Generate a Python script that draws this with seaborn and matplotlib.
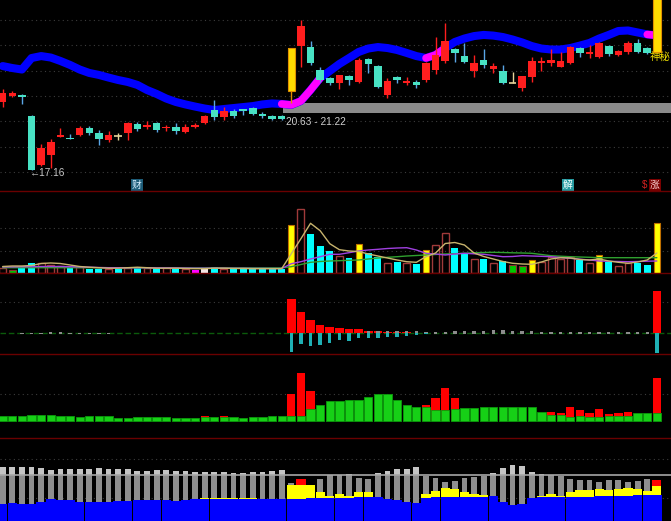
import matplotlib
matplotlib.use("Agg")
import matplotlib.pyplot as plt
import seaborn as sns
import numpy as np

# ---- K线: 开 收 高 低 ----
opens = [21.32, 21.66, 21.72, 20.44, 17.45, 18.06, 19.18, 19.08, 19.28, 19.73,
         19.39, 18.98, 19.20, 19.39, 19.96, 19.75, 20.00, 19.69, 19.79, 19.49,
         19.75, 20.00, 20.81, 20.36, 20.75, 20.85, 20.91, 20.57, 20.44, 20.42,
         21.97, 24.71, 24.67, 23.25, 22.74, 22.44, 22.88, 22.54, 23.90, 23.49,
         21.73, 22.84, 22.44, 22.54, 22.64, 23.25, 23.82, 24.51, 24.10, 23.21,
         23.86, 23.29, 23.21, 22.46, 22.13, 22.84, 23.70, 23.70, 23.45, 23.70,
         24.57, 24.23, 24.06, 24.71, 24.17, 24.37, 24.88, 24.57, 24.37]
closes = [21.83, 21.83, 21.58, 17.16, 18.47, 18.88, 19.28, 19.02, 19.69, 19.43,
          19.02, 19.28, 19.20, 20.00, 19.63, 19.89, 19.59, 19.79, 19.55, 19.79,
          19.89, 20.44, 20.36, 20.77, 20.44, 20.75, 20.57, 20.44, 20.24, 20.24,
          24.57, 25.93, 23.66, 22.64, 22.44, 22.95, 22.64, 23.86, 23.62, 22.19,
          22.60, 22.64, 22.58, 22.34, 23.66, 24.17, 25.04, 24.31, 23.76, 23.70,
          23.56, 23.49, 22.44, 22.46, 22.88, 23.82, 23.82, 23.86, 23.82, 24.63,
          24.31, 24.37, 24.88, 24.23, 24.43, 24.92, 24.37, 24.31, 29.24]
highs = [22.07, 21.99, 21.79, 20.50, 18.74, 19.02, 19.69, 19.33, 19.83, 19.83,
         19.59, 19.55, 19.43, 20.10, 20.08, 20.16, 20.10, 19.89, 20.00, 19.96,
         20.04, 20.50, 21.42, 20.97, 20.87, 20.89, 21.01, 20.71, 20.50, 20.50,
         24.57, 26.30, 25.04, 23.45, 22.84, 22.95, 22.95, 23.96, 23.96, 23.56,
         22.74, 22.88, 22.80, 22.64, 23.76, 25.28, 26.14, 24.57, 24.88, 24.17,
         24.51, 23.70, 23.56, 23.15, 22.88, 24.06, 24.02, 24.51, 24.37, 24.71,
         24.67, 24.77, 24.98, 24.77, 24.47, 25.04, 25.12, 24.67, 29.24]
lows = [21.01, 21.58, 21.18, 17.16, 17.40, 17.25, 19.14, 19.02, 19.24, 19.28,
        18.67, 18.88, 18.98, 18.98, 19.56, 19.63, 19.49, 19.53, 19.35, 19.41,
        19.69, 19.96, 20.20, 20.20, 20.32, 20.50, 20.50, 20.30, 20.20, 20.20,
        21.22, 23.45, 23.56, 22.54, 22.34, 22.07, 22.34, 22.44, 23.05, 22.13,
        21.52, 22.44, 22.34, 22.13, 22.54, 23.01, 23.70, 23.76, 23.66, 22.80,
        23.35, 23.05, 22.40, 22.44, 21.95, 22.54, 23.21, 23.49, 23.45, 23.62,
        24.02, 23.96, 23.96, 24.10, 24.10, 24.23, 24.27, 24.23, 24.31]
limit_up = [30, 68]

# 均线 (蓝), 洋红段
ma_line = [23.49, 23.37, 23.28, 23.98, 24.10, 24.01, 23.80, 23.56, 23.28, 23.07,
           22.95, 22.79, 22.64, 22.52, 22.34, 22.03, 21.79, 21.51, 21.30, 21.15,
           21.02, 20.90, 20.81, 20.87, 20.93, 20.99, 21.05, 21.15, 21.21, 21.18,
           21.12, 21.36, 22.03, 22.76, 23.19, 23.62, 23.98, 24.35, 24.56, 24.65,
           24.59, 24.47, 24.29, 24.10, 23.98, 24.17, 24.59, 24.96, 25.17, 25.32,
           25.39, 25.35, 25.26, 25.11, 24.93, 24.71, 24.56, 24.50, 24.50, 24.59,
           24.74, 24.90, 25.17, 25.39, 25.63, 25.66, 25.54, 25.42, 25.36]
ma_hot = [(29, 33), (44, 46), (67, 68)]

support_low, support_high, support_from = 20.63, 21.22, 29

# ---- 成交量 ----
vol = [0.44, 0.27, 0.44, 1.00, 1.00, 0.77, 0.70, 0.50, 0.60, 0.37,
       0.37, 0.37, 0.37, 0.50, 0.44, 0.44, 0.44, 0.44, 0.37, 0.37,
       0.27, 0.37, 0.60, 0.37, 0.37, 0.37, 0.37, 0.37, 0.37, 0.37,
       4.77, 6.37, 3.84, 2.67, 2.17, 1.70, 1.44, 2.84, 1.94, 1.60,
       1.00, 1.04, 0.94, 0.87, 2.27, 2.77, 3.94, 2.50, 2.00, 1.37,
       1.37, 1.00, 1.17, 0.77, 0.67, 1.27, 1.10, 1.60, 1.37, 1.60,
       1.27, 0.94, 1.77, 1.10, 0.67, 0.94, 0.94, 0.77, 4.94]
vol_kind = ("u g d d u u u d u d "
            "d u d u d u d u d u "
            "m w d u d d d d d d "
            "y u d d d u d y d d "
            "u d u d y u u d d u "
            "d u d g g y u u u u "
            "d u y d u u d d y").split()
vol_ma5 = [0.62, 0.67, 0.67, 0.72, 0.92, 0.97, 0.92, 0.77, 0.62, 0.55,
           0.50, 0.45, 0.45, 0.50, 0.55, 0.50, 0.45, 0.45, 0.45, 0.42,
           0.40, 0.40, 0.45, 0.45, 0.42, 0.42, 0.40, 0.40, 0.40, 0.40,
           1.90, 3.40, 4.94, 4.20, 2.90, 2.30, 2.17, 2.12, 1.87, 1.67,
           1.47, 1.27, 1.10, 1.04, 1.60, 1.97, 2.92, 3.02, 2.77, 1.97,
           1.62, 1.37, 1.12, 0.94, 0.87, 0.84, 1.07, 1.37, 1.50, 1.47,
           1.32, 1.27, 1.37, 1.17, 1.04, 0.94, 1.07, 1.27, 1.97]
vol_ma10 = [0.58, 0.58, 0.60, 0.60, 0.62, 0.62, 0.62, 0.60, 0.58, 0.55,
            0.52, 0.50, 0.50, 0.50, 0.50, 0.50, 0.48, 0.48, 0.47, 0.46,
            0.45, 0.45, 0.45, 0.45, 0.44, 0.44, 0.43, 0.43, 0.42, 0.42,
            0.90, 1.10, 1.37, 1.60, 1.84, 1.84, 2.00, 2.17, 2.27, 2.34,
            2.42, 2.47, 2.50, 2.27, 1.94, 1.87, 1.77, 1.87, 1.94, 1.89,
            1.84, 1.72, 1.60, 1.62, 1.70, 1.67, 1.64, 1.60, 1.52, 1.44,
            1.35, 1.27, 1.17, 1.14, 1.12, 1.10, 1.12, 1.15, 1.17]
vol_ma20 = [0.50, 0.50, 0.50, 0.50, 0.50, 0.50, 0.50, 0.50, 0.50, 0.50,
            0.49, 0.49, 0.49, 0.49, 0.48, 0.48, 0.48, 0.48, 0.48, 0.48,
            0.48, 0.48, 0.48, 0.48, 0.48, 0.48, 0.48, 0.48, 0.48, 0.48,
            0.60, 0.82, 1.04, 1.12, 1.17, 1.20, 1.24, 1.27, 1.37, 1.47,
            1.54, 1.60, 1.67, 1.72, 1.77, 1.82, 1.87, 1.90, 1.94, 1.99,
            2.02, 2.04, 2.02, 1.99, 1.97, 1.94, 1.82, 1.70, 1.65, 1.60,
            1.57, 1.54, 1.50, 1.50, 1.50, 1.50, 1.50, 1.50, 1.50]

# ---- 副图1: 红柱 / 青柱 / 灰柱 ----
p3_red = {30: 3.43, 31: 2.10, 32: 1.33, 33: 0.83, 34: 0.66, 35: 0.56, 36: 0.43,
          37: 0.40, 38: 0.26, 39: 0.26, 40: 0.16, 41: 0.16, 42: 0.10,
          57: 0.05, 58: 0.05, 68: 4.23}
p3_cyan = {30: -1.84, 31: -1.10, 32: -1.27, 33: -1.17, 34: -1.00, 35: -0.70,
           36: -0.77, 37: -0.50, 38: -0.44, 39: -0.50, 40: -0.34, 41: -0.34,
           42: -0.24, 43: -0.17, 44: -0.12, 68: -2.00}
p3_gray = {2: 0.05, 3: 0.06, 4: 0.05, 5: 0.08, 6: 0.08, 7: 0.06, 8: 0.05, 9: 0.06,
           10: 0.05, 11: 0.04, 38: 0.2, 39: 0.2, 40: 0.2, 41: 0.25, 42: 0.25,
           43: 0.2, 44: 0.1, 45: 0.1, 46: 0.1, 47: 0.2, 48: 0.25, 49: 0.25,
           50: 0.25, 51: 0.3, 52: 0.3, 53: 0.25, 54: 0.25, 55: 0.2, 56: 0.15,
           57: 0.1, 58: 0.1, 59: 0.1, 60: 0.15, 61: 0.1, 62: 0.1, 63: 0.1,
           64: 0.1, 65: 0.1, 66: 0.1, 67: 0.15}

# ---- 副图2: 绿柱 + 红柱 ----
p4_green = [0.47, 0.47, 0.47, 0.57, 0.57, 0.57, 0.47, 0.47, 0.34, 0.47,
            0.47, 0.47, 0.30, 0.30, 0.40, 0.40, 0.40, 0.40, 0.30, 0.30,
            0.30, 0.40, 0.40, 0.40, 0.40, 0.30, 0.40, 0.40, 0.47, 0.47,
            0.47, 0.47, 1.14, 1.57, 1.90, 1.90, 2.07, 2.00, 2.34, 2.67,
            2.67, 2.07, 1.57, 1.34, 1.40, 1.07, 1.07, 1.14, 1.24, 1.24,
            1.34, 1.34, 1.40, 1.40, 1.40, 1.40, 0.90, 0.57, 0.57, 0.34,
            0.47, 0.34, 0.34, 0.47, 0.47, 0.47, 0.74, 0.80, 0.80]
p4_red = {21: 0.50, 23: 0.45, 30: 2.67, 31: 4.74, 32: 2.90, 44: 1.57, 45: 2.24,
          46: 3.24, 47: 2.24, 57: 0.84, 58: 0.74, 59: 1.40, 60: 1.07, 61: 0.80,
          62: 1.14, 63: 0.67, 64: 0.74, 65: 0.90, 68: 4.24}

# ---- 副图3: 灰 / 蓝 / 黄 / 红 ----
p5_gray = [5.43, 5.43, 5.43, 5.43, 5.27, 5.10, 5.17, 5.17, 5.17, 5.17,
           5.27, 5.17, 5.17, 5.17, 5.03, 5.03, 5.10, 5.10, 5.03, 5.03,
           4.93, 4.93, 4.93, 4.93, 4.83, 4.83, 4.93, 4.93, 5.03, 5.10,
           3.80, 4.17, 3.60, 4.17, 4.60, 4.60, 4.70, 4.27, 4.17, 4.77,
           5.03, 5.17, 5.17, 5.37, 4.50, 4.27, 3.93, 4.03, 4.27, 4.43,
           4.50, 4.77, 5.27, 5.60, 5.50, 4.93, 4.67, 4.60, 4.53, 4.20,
           4.10, 4.10, 3.93, 4.10, 4.10, 3.93, 4.03, 4.17, 4.10]
p5_blue = [1.70, 1.77, 1.70, 1.70, 1.93, 2.17, 2.10, 2.07, 1.93, 1.93,
           1.93, 1.93, 2.03, 2.03, 2.10, 2.10, 2.10, 2.10, 2.03, 2.10,
           2.17, 2.17, 2.17, 2.17, 2.17, 2.17, 2.17, 2.17, 2.17, 2.17,
           2.17, 2.17, 2.27, 2.27, 2.27, 2.27, 2.27, 2.37, 2.40, 2.43,
           2.17, 2.10, 1.93, 1.83, 2.27, 2.43, 2.43, 2.43, 2.43, 2.43,
           2.43, 2.50, 1.93, 1.60, 1.70, 2.27, 2.37, 2.43, 2.43, 2.43,
           2.43, 2.43, 2.50, 2.50, 2.50, 2.50, 2.60, 2.60, 2.60]
p5_yellow = {21: 2.27, 22: 2.27, 23: 2.27, 24: 2.27, 25: 2.27, 26: 2.27,
             30: 3.60, 31: 3.60, 32: 3.60, 33: 2.93, 34: 2.50, 35: 2.70,
             36: 2.50, 37: 2.93, 38: 2.93, 44: 2.70, 45: 3.00, 46: 3.33,
             47: 3.17, 48: 2.93, 49: 2.70, 50: 2.60, 56: 2.50, 57: 2.70,
             58: 2.53, 59: 2.93, 60: 3.10, 61: 3.10, 62: 3.20, 63: 3.10,
             64: 3.17, 65: 3.33, 66: 3.17, 67: 3.00, 68: 3.50}
p5_red = {31: 4.17, 68: 4.10}
p5_level = 4.6

# ---------------------------------------------------------------
sns.set_theme(style="dark")
plt.rcParams["font.family"] = ["DejaVu Sans", "Noto Sans CJK SC"]
num_font = ["Liberation Sans", "DejaVu Sans"]
cjk_font = ["Noto Sans CJK SC", "DejaVu Sans"]

n = len(closes)
idx = np.arange(n)
o = np.array(opens)
c = np.array(closes)

fig = plt.figure(figsize=(6.71, 5.21), dpi=100, facecolor="black")
H = 521.0
rows = [(0, 191), (191, 272.7), (272.7, 353.5), (353.5, 437.7), (437.7, 521)]
axes = []
for k, (top, bot) in enumerate(rows):
    ax = fig.add_axes([0, 1 - bot / H, 1, (bot - top) / H])
    ax.set_facecolor("black")
    ax.set_xlim(-0.28, 69.47)
    for s in ["left", "right", "bottom"]:
        ax.spines[s].set_visible(False)
    ax.spines["top"].set_color("#6a0000")
    ax.spines["top"].set_linewidth(1.0)
    ax.spines["top"].set_visible(k > 0)
    ax.tick_params(left=False, labelleft=False, bottom=False, labelbottom=False)
    ax.set_xticks([])
    axes.append(ax)
ax1, ax2, ax3, ax4, ax5 = axes

def dotted_grid(ax, levels):
    ax.set_yticks(levels)
    ax.grid(True, axis="y", color="#3c3c3c", linestyle=(0, (1, 3)), lw=0.8)
    ax.grid(False, axis="x")
    ax.set_axisbelow(True)

# ---- 主图 ----
ax1.set_ylim(15.87, 27.52)
dotted_grid(ax1, list(np.linspace(17.03, 26.30, 7)))

ax1.fill_between([support_from + 0.15, 69.47], support_low, support_high,
                 color="#8a8a8a", lw=0, zorder=1)
sns.lineplot(x=idx, y=ma_line, ax=ax1, color="#0000ff", lw=5.8,
             solid_capstyle="round", zorder=2)
for a, b in ma_hot:
    ax1.plot(idx[a:b + 1], ma_line[a:b + 1], color="#ff00ff", lw=5.4,
             solid_capstyle="round", zorder=2.5)

body_col, wick_col = [], []
for i in range(n):
    if i in limit_up:
        body_col.append("#ffdc00"); wick_col.append("#e08a00")
    elif c[i] > o[i]:
        body_col.append("#ff1e1e"); wick_col.append("#ff1e1e")
    elif c[i] < o[i]:
        body_col.append("#48e2c4"); wick_col.append("#5aa6e6")
    else:
        body_col.append("#e6d49a"); wick_col.append("#e6d49a")
ax1.vlines(idx, lows, highs, colors=wick_col, lw=1.0, zorder=3)
ax1.bar(idx, np.abs(c - o), bottom=np.minimum(o, c), width=0.78,
        color=body_col, lw=0, zorder=4)
flat = idx[c == o]
ax1.hlines(c[flat], flat - 0.39, flat + 0.39, colors="#e6d49a", lw=1.2, zorder=4)
for i in limit_up:
    ax1.bar(i, c[i] - o[i], bottom=o[i], width=0.78, facecolor="none",
            edgecolor="#e09000", lw=0.8, zorder=4.5)

low_i = int(np.argmin(lows))
ax1.text(low_i - 0.16, lows[low_i] - 0.19, "\u2190%.2f" % lows[low_i],
         color="#c8c8c8", fontsize=7.3, ha="left", va="center", family=num_font)
ax1.text(support_from + 0.45, support_low - 0.55,
         "%.2f - %.2f" % (support_low, support_high), color="#d0d0d0",
         fontsize=7.3, ha="left", va="center", family=num_font)
box = dict(boxstyle="square,pad=0.1", ec="none")
ax1.text(13.93, 16.23, "财", color="#d8f0ff", fontsize=7, ha="center",
         va="center", family=cjk_font, bbox=dict(box, fc="#1d5c78"))
ax1.text(58.76, 16.23, "解", color="#f0ffff", fontsize=7, ha="center",
         va="center", family=cjk_font, bbox=dict(box, fc="#259aa0"))
ax1.text(66.77, 16.23, "$", color="#d02020", fontsize=7, ha="center",
         va="center", family=num_font)
ax1.text(67.8, 16.23, "涨", color="#ffd8d8", fontsize=7, ha="center",
         va="center", family=cjk_font, bbox=dict(box, fc="#7a0000"))
ax1.text(69.4, 24.06, "神秘", color="#f0e000", fontsize=7.5, ha="right",
         va="center", family=cjk_font)

# ---- 成交量 ----
ax2.set_ylim(0, 8.17)
dotted_grid(ax2, [2.2, 4.44])
kind_style = {
    "d": dict(color="#00ffff", width=0.72, lw=0),
    "g": dict(color="#00c800", width=0.72, edgecolor="#8a3030", lw=0.8),
    "m": dict(color="#ff00ff", width=0.72, lw=0),
    "w": dict(color="#f4e4e4", width=0.72, lw=0),
    "y": dict(color="#ffff00", width=0.6, edgecolor="#c07000", lw=0.8),
    "u": dict(facecolor="none", width=0.72, edgecolor="#a03a3a", lw=1.0),
}
for i in range(n):
    ax2.bar(i, vol[i], zorder=3, **kind_style[vol_kind[i]])
sns.lineplot(x=idx, y=vol_ma20, ax=ax2, color="#2fa02f", lw=1.0, zorder=4)
sns.lineplot(x=idx, y=vol_ma10, ax=ax2, color="#a040e0", lw=1.0, zorder=4)
sns.lineplot(x=idx, y=vol_ma5, ax=ax2, color="#c8b46e", lw=1.0, zorder=4)

# ---- 副图1 ----
ax3.set_ylim(-2.02, 6.06)
dotted_grid(ax3, [3.1])
ax3.axhline(0, color="#0b5a0b", ls=(0, (4, 2)), lw=1.0, zorder=2)
ax3.bar(list(p3_red), list(p3_red.values()), width=0.9, color="#ff0000", lw=0, zorder=3)
ax3.bar(list(p3_gray), [v + 0.12 for v in p3_gray.values()], bottom=-0.12,
        width=0.35, color="#8c8c8c", lw=0, zorder=3)
ax3.bar(list(p3_cyan), list(p3_cyan.values()), width=0.35, color="#1fb0b4", lw=0, zorder=3)

# ---- 副图2 ----
ax4.set_ylim(-1.7, 6.67)
dotted_grid(ax4, [2.64])
ax4.bar(list(p4_red), list(p4_red.values()), width=0.86, color="#ff0000", lw=0, zorder=3)
ax4.bar(idx, p4_green, width=0.86, color="#16d016", edgecolor="#0c9a0c", lw=0.6, zorder=4)

# ---- 副图3 ----
ax5.set_ylim(0, 8.33)
dotted_grid(ax5, [2.3, 6.17])
g = np.array(p5_gray)
ax5.bar(idx, np.minimum(g, p5_level), width=0.6, color="#8e8e8e", lw=0, zorder=3)
ax5.bar(idx, np.clip(g - p5_level, 0, None), bottom=p5_level, width=0.6,
        color="#c4c4c4", lw=0, zorder=3)
ax5.bar(idx, p5_blue, width=0.98, color="#0000ff", lw=0, zorder=4)
yk = list(p5_yellow)
ax5.bar(yk, [p5_yellow[i] - p5_blue[i] for i in yk], bottom=[p5_blue[i] for i in yk],
        width=0.96, color="#ffff00", lw=0, zorder=4)
rk = list(p5_red)
ax5.bar(rk, [p5_red[i] - p5_yellow[i] for i in rk], bottom=[p5_yellow[i] for i in rk],
        width=0.96, color="#ff0000", lw=0, zorder=4)
ax5.axhline(p5_level, color="#a6a6a6", lw=1.2, zorder=5)

fig.savefig("out.png", dpi=100, facecolor="black")
